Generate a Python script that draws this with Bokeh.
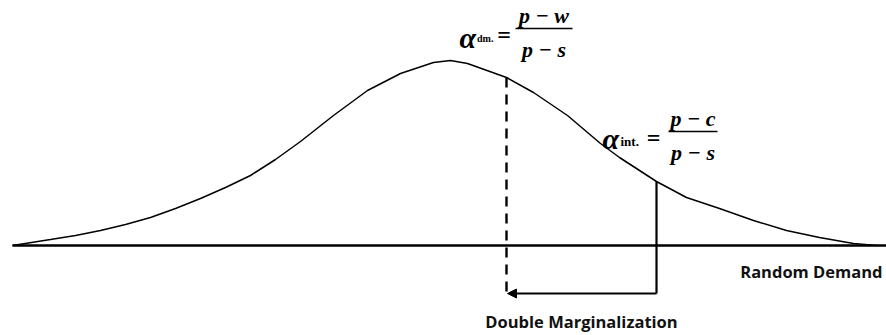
from bokeh.plotting import figure
from bokeh.models import Range1d, Label, Arrow, NormalHead
from bokeh.embed import file_html
from bokeh.resources import INLINE

# ---- data -----------------------------------------------------------------
# demand density curve (demand units, density units)
demand = [0, 38, 63, 88, 113, 138, 163, 188, 213, 238, 263, 288, 321, 355,
          388, 421, 438, 455, 494, 521, 555, 588, 607, 644, 674, 707, 741,
          774, 807, 841, 864]
density = [0, 6, 10, 15, 21, 28, 37, 47, 58, 70, 86, 104, 130, 155,
           172, 183, 185, 182, 168, 153, 130, 102, 88, 64, 48, 37, 25,
           15, 8, 2, 0]

# critical quantities and the density at each of them
q_dm, f_dm = 494, 168      # decentralised chain (double marginalisation)
q_int, f_int = 644, 64     # integrated chain
arrow_level = -48          # depth of the arrow below the demand axis

axis_label = "Random Demand"
gap_label = "Double Marginalization"
alpha_dm = ("\u03b1", "dm.", "p \u2212 w", "p \u2212 s")
alpha_int = ("\u03b1", "int.", "p \u2212 c", "p \u2212 s")

# ---- figure ---------------------------------------------------------------
W, H = 886, 335
p = figure(width=W, height=H, output_backend="svg", toolbar_location=None,
           x_range=Range1d(-12, 874), y_range=Range1d(-90, 245),
           min_border=0, outline_line_color=None)
p.axis.visible = False
p.grid.visible = False

# demand axis
p.line([demand[0], p.x_range.end], [0, 0], line_color="black", line_width=2.6)

# density curve
p.line(demand, density, line_color="black", line_width=1.5)

# critical fractile lines
p.line([q_dm, q_dm], [f_dm, arrow_level], line_color="black",
       line_width=2.4, line_dash="10 7")
p.line([q_int, q_int], [f_int, arrow_level], line_color="black",
       line_width=2.2)

# arrow from integrated to decentralised quantity
p.add_layout(Arrow(end=NormalHead(size=9, fill_color="black",
                                  line_color="black", line_width=1),
                   x_start=q_int, y_start=arrow_level,
                   x_end=q_dm + 1, y_end=arrow_level,
                   line_color="black", line_width=2.2))

SANS = "Open Sans"
p.add_layout(Label(x=p.x_range.end - 4, y=-26, text=axis_label,
                   text_font=SANS, text_font_style="bold",
                   text_font_size="16.5px", text_align="right",
                   text_baseline="alphabetic", text_color="#111111"))
p.add_layout(Label(x=(q_dm + q_int) / 2, y=-76, text=gap_label,
                   text_font=SANS, text_font_style="bold",
                   text_font_size="16.5px", text_align="center",
                   text_baseline="alphabetic", text_color="#111111"))

SERIF = "Liberation Serif"


def formula(cx, cy, parts, half, a_dx, a_dy, s_dx, s_size, e_dx):
    a, sub, num, den = parts
    p.add_layout(Label(x=cx + a_dx, y=cy + a_dy, text=a, text_font=SERIF,
                       text_font_style="bold italic", text_font_size="30px",
                       text_align="right", text_baseline="alphabetic",
                       text_color="black"))
    p.add_layout(Label(x=cx + s_dx, y=cy - 10, text=sub, text_font=SERIF,
                       text_font_style="bold", text_font_size=s_size,
                       text_align="left", text_baseline="alphabetic",
                       text_color="black"))
    p.add_layout(Label(x=cx + e_dx, y=cy - 6, text="=", text_font=SERIF,
                       text_font_style="bold", text_font_size="24px",
                       text_align="center", text_baseline="alphabetic",
                       text_color="black"))
    p.add_layout(Label(x=cx, y=cy + 13, text=num, text_font=SERIF,
                       text_font_style="bold italic", text_font_size="22px",
                       text_align="center", text_baseline="alphabetic",
                       text_color="black"))
    p.add_layout(Label(x=cx, y=cy - 21, text=den, text_font=SERIF,
                       text_font_style="bold italic", text_font_size="22px",
                       text_align="center", text_baseline="alphabetic",
                       text_color="black"))
    p.line([cx - half, cx + half], [cy, cy], line_color="black",
           line_width=1.4)


formula(q_dm + 37.5, 217, alpha_dm, 28.5, -68, -9, -67, "10px", -40)
formula(q_int + 36.5, 114, alpha_int, 24.5, -74, -7, -72.5, "13px", -39.5)

open("out.html", "w").write(file_html(p, INLINE))
